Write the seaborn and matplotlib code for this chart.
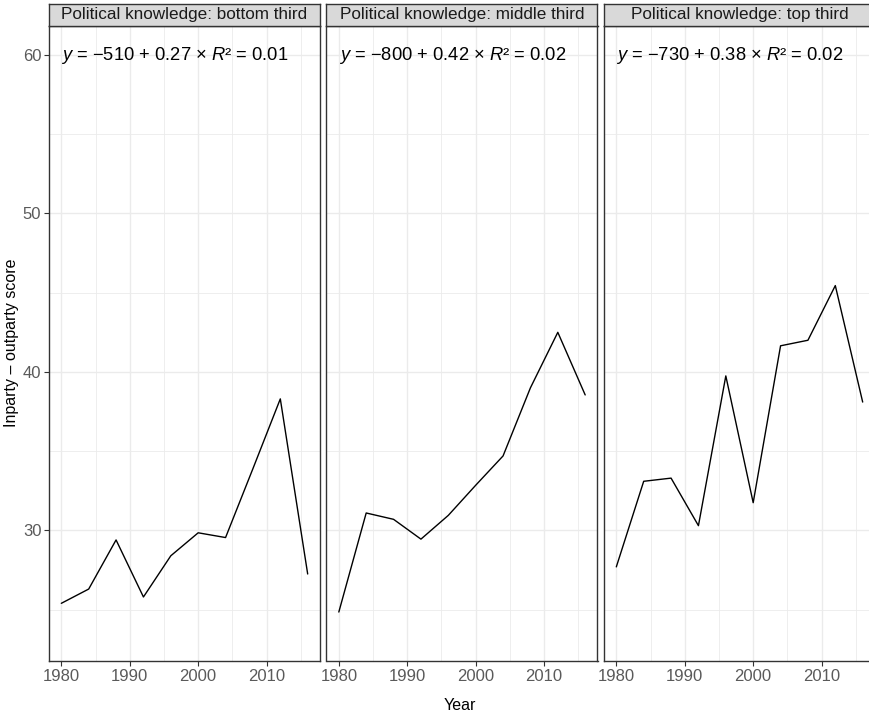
import matplotlib
matplotlib.use("Agg")
import matplotlib.pyplot as plt
from matplotlib.ticker import MultipleLocator
import pandas as pd
import seaborn as sns

# --- data ---
years = [1980, 1984, 1988, 1992, 1996, 2000, 2004, 2008, 2012, 2016]
bottom_third = [25.4, 26.3, 29.4, 25.8, 28.4, 29.85, 29.55, 33.9, 38.3, 27.25]
middle_third = [24.85, 31.1, 30.7, 29.45, 30.95, 32.85, 34.7, 39.0, 42.5, 38.55]
top_third = [27.7, 33.1, 33.3, 30.3, 39.75, 31.75, 41.65, 42.0, 45.45, 38.1]

panel_titles = [
    "Political knowledge: bottom third",
    "Political knowledge: middle third",
    "Political knowledge: top third",
]
fit_labels = [
    ("\u2212510", "0.27", "0.01"),
    ("\u2212800", "0.42", "0.02"),
    ("\u2212730", "0.38", "0.02"),
]

df = pd.DataFrame({
    "year": years * 3,
    "score": bottom_third + middle_third + top_third,
    "panel": [t for t in panel_titles for _ in years],
})

sns.set_style("white")
plt.rcParams["font.family"] = ["Liberation Sans", "DejaVu Sans"]
plt.rcParams["mathtext.fontset"] = "custom"
plt.rcParams["mathtext.rm"] = "Liberation Sans"
plt.rcParams["mathtext.it"] = "Liberation Sans:italic"

W, H = 870, 717
fig = plt.figure(figsize=(W / 100, H / 100), dpi=100)

panel_top, panel_bottom = 26, 661
strip_h = 22
lefts = [49, 326.5, 604]
pw = 271

grid_col = "#EBEBEB"
frame_col = "#333333"
tick_lab = "#5A5A5A"

for i, title in enumerate(panel_titles):
    ax = fig.add_axes([lefts[i] / W, 1 - panel_bottom / H, pw / W,
                       (panel_bottom - panel_top) / H])
    sub = df[df["panel"] == title]
    sns.lineplot(data=sub, x="year", y="score", ax=ax, color="black",
                 linewidth=1.0, estimator=None)

    ax.set_xlim(1978.2, 2017.8)
    ax.set_ylim(21.76, 61.83)
    ax.xaxis.set_major_locator(MultipleLocator(10))
    ax.xaxis.set_minor_locator(MultipleLocator(5))
    ax.yaxis.set_major_locator(MultipleLocator(10))
    ax.yaxis.set_minor_locator(MultipleLocator(5))
    ax.grid(which="major", color=grid_col, linewidth=1.0)
    ax.grid(which="minor", color=grid_col, linewidth=0.6)
    ax.set_axisbelow(True)
    for s in ax.spines.values():
        s.set_color(frame_col)
        s.set_linewidth(1.0)

    ax.tick_params(axis="x", which="major", length=3.5, width=0.8,
                   color=frame_col, labelcolor=tick_lab, labelsize=12,
                   pad=2, bottom=True)
    ax.tick_params(which="minor", length=0)
    if i == 0:
        ax.tick_params(axis="y", which="major", length=3.5, width=0.8,
                       color=frame_col, labelcolor=tick_lab, labelsize=12,
                       pad=2, left=True)
    else:
        ax.tick_params(axis="y", which="major", length=0, labelleft=False)
    ax.set_xlabel("")
    ax.set_ylabel("")

    b, s, r = fit_labels[i]
    label = (r"$\it{y}$ = " + b + " + " + s + " \u00d7 " + r"$\it{R}$"
             + "\u00b2 = " + r)
    ax.text(1980, 60, label, ha="left", va="center", fontsize=13.2,
            color="black")

    # facet strip
    sax = fig.add_axes([lefts[i] / W, 1 - panel_top / H, pw / W, strip_h / H])
    sax.set_facecolor("#D9D9D9")
    sax.set_xticks([])
    sax.set_yticks([])
    for sp in sax.spines.values():
        sp.set_color(frame_col)
        sp.set_linewidth(1.0)
    sax.text(0.5, 0.5, title, ha="center", va="center", fontsize=12.3,
             color="#1A1A1A", transform=sax.transAxes)

fig.text(460 / W, 1 - 706 / H, "Year", ha="center", va="center",
         fontsize=11.5, color="black")
fig.text(12 / W, 1 - 343 / H, "Inparty \u2013 outparty score", ha="center",
         va="center", rotation=90, fontsize=11.5, color="black")

fig.savefig("out.png", dpi=100)
